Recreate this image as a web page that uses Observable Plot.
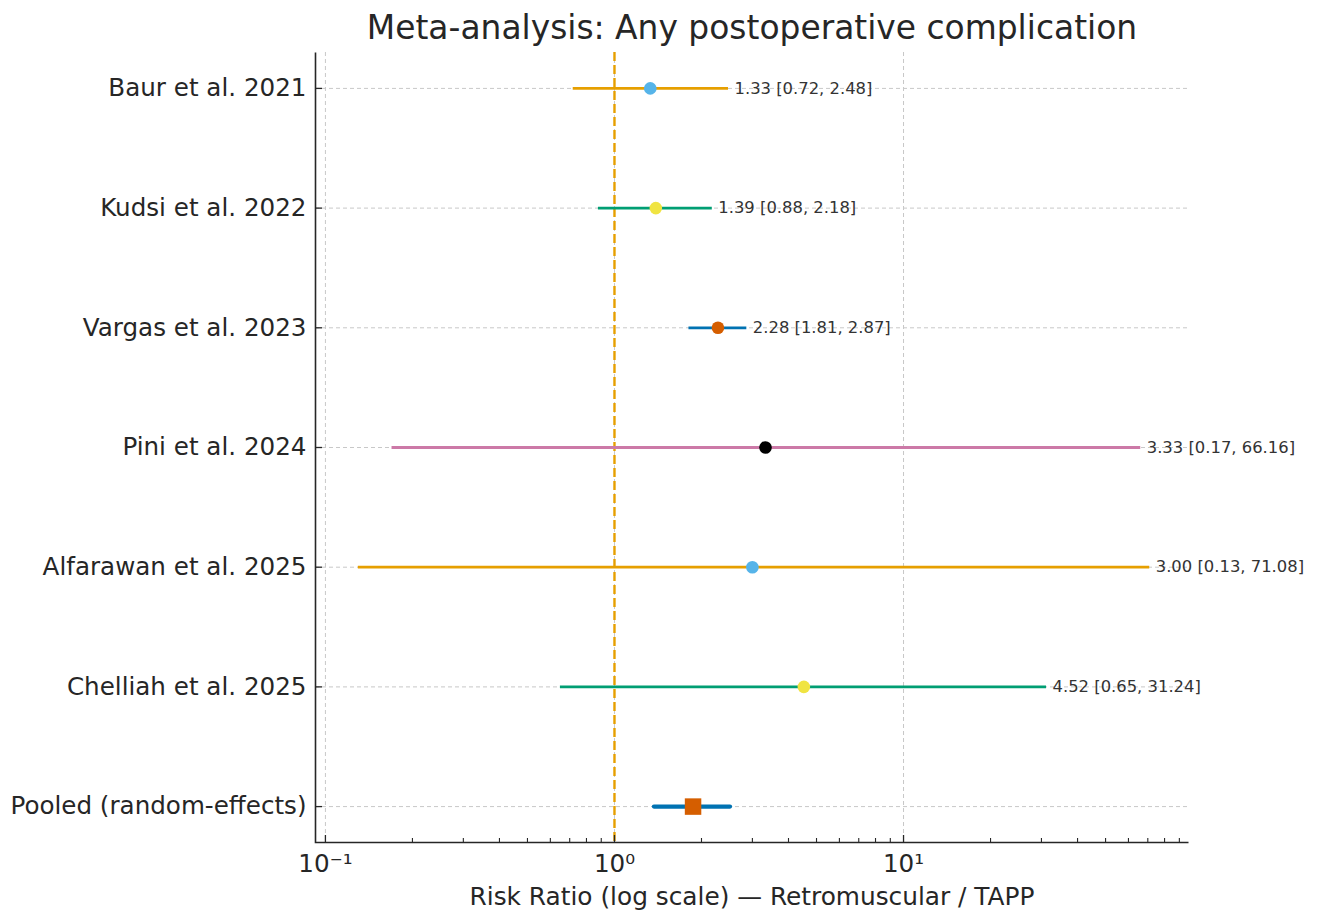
<!DOCTYPE html>
<html>
<head>
<meta charset="utf-8">
<script src="https://cdn.jsdelivr.net/npm/d3@7"></script>
<script src="https://cdn.jsdelivr.net/npm/@observablehq/plot@0.6"></script>
<style>
  html, body { margin: 0; padding: 0; background: #fff; }
  #chart svg { display: block; }
</style>
</head>
<body>
<div id="chart"></div>
<script>
const title = "Meta-analysis: Any postoperative complication";
const xLabel = "Risk Ratio (log scale) — Retromuscular / TAPP";
const studies = ["Baur et al. 2021", "Kudsi et al. 2022", "Vargas et al. 2023", "Pini et al. 2024", "Alfarawan et al. 2025", "Chelliah et al. 2025", "Pooled (random-effects)"];
const rr = [1.33, 1.39, 2.28, 3.33, 3.00, 4.52, 1.87];
const lo = [0.72, 0.88, 1.81, 0.17, 0.13, 0.65, 1.375];
const hi = [2.48, 2.18, 2.87, 66.16, 71.08, 31.24, 2.52];
const lineColors = ["#E69F00", "#009E73", "#0072B2", "#CC79A7", "#E69F00", "#009E73", "#0072B2"];
const dotColors = ["#56B4E9", "#F0E442", "#D55E00", "#000000", "#56B4E9", "#F0E442", "#D55E00"];
const majorTicks = [0.1, 1, 10];
const majorTickLabels = ["10⁻¹", "10⁰", "10¹"];
const minorTicks = [0.2,0.3,0.4,0.5,0.6,0.7,0.8,0.9,2,3,4,5,6,7,8,9,20,30,40,50,60,70,80,90];
const xDomain = [0.0924, 96.8];
const refValue = 1;

const rows = studies.map((s, i) => ({
  study: s, rr: rr[i], lo: lo[i], hi: hi[i],
  lineColor: lineColors[i], dotColor: dotColors[i],
  pooled: i === studies.length - 1,
  label: `${rr[i].toFixed(2)} [${lo[i].toFixed(2)}, ${hi[i].toFixed(2)}]`
}));
const studyRows = rows.filter(d => !d.pooled);
const pooledRows = rows.filter(d => d.pooled);

const W = 1317, H = 914, mL = 315, mR = 129, mT = 52, mB = 72;
const fw = W - mL - mR, fh = H - mT - mB;
const ink = "#262626";

const chart = Plot.plot({
  width: W, height: H,
  marginLeft: mL, marginRight: mR, marginTop: mT, marginBottom: mB,
  style: { fontFamily: "'DejaVu Sans', sans-serif", background: "#fff", color: ink, overflow: "visible" },
  x: { type: "log", domain: xDomain },
  y: { type: "point", domain: studies, padding: 0.3, round: false },
  color: { type: "identity" },
  marks: [
    Plot.gridX(majorTicks, { stroke: "#c8c8c8", strokeOpacity: 1, strokeWidth: 1, strokeDasharray: "4,3" }),
    Plot.gridY(studies, { stroke: "#c8c8c8", strokeOpacity: 1, strokeWidth: 1, strokeDasharray: "4,3" }),
    Plot.ruleX([refValue], { stroke: "#E69F00", strokeWidth: 2.4, strokeDasharray: "9,4" }),
    Plot.ruleY(studyRows, { y: "study", x1: "lo", x2: "hi", stroke: "lineColor", strokeWidth: 2.8 }),
    Plot.ruleY(pooledRows, { y: "study", x1: "lo", x2: "hi", stroke: "lineColor", strokeWidth: 4.3, strokeLinecap: "round" }),
    Plot.dot(studyRows, { x: "rr", y: "study", fill: "dotColor", r: 6.3 }),
    Plot.dot(pooledRows, { x: "rr", y: "study", fill: "dotColor", symbol: "square", r: 9.3 }),
    Plot.text(studyRows, { x: "hi", y: "study", text: "label", dx: 6, textAnchor: "start", fontSize: 16.4, fill: "#333" }),
    Plot.frame({ stroke: ink, strokeWidth: 1.6, strokeDasharray: `0,${fw + fh},${fw + fh}` }),
    Plot.axisY(studies, { tickSize: -7, tickPadding: 16, fontSize: 24.6, stroke: ink, strokeWidth: 1.3, label: null, fill: ink }),
    Plot.axisX(majorTicks, { tickSize: -7, tickFormat: () => "", label: null, stroke: ink, strokeWidth: 1.3 }),
    Plot.axisX(minorTicks, { tickSize: -4, tickFormat: () => "", label: null, stroke: ink, strokeWidth: 1.1 }),
    Plot.text(majorTicks, { x: d => d, frameAnchor: "bottom", lineAnchor: "middle", dy: 22, text: (d, i) => majorTickLabels[i], fontSize: 24.6, fill: ink }),
    Plot.text([xLabel], { frameAnchor: "bottom", lineAnchor: "middle", dy: 55, fontSize: 24.8, fill: ink }),
    Plot.text([title], { frameAnchor: "top", lineAnchor: "middle", dy: -24.5, fontSize: 32.9, fill: ink })
  ]
});
document.getElementById("chart").appendChild(chart);
</script>
</body>
</html>
